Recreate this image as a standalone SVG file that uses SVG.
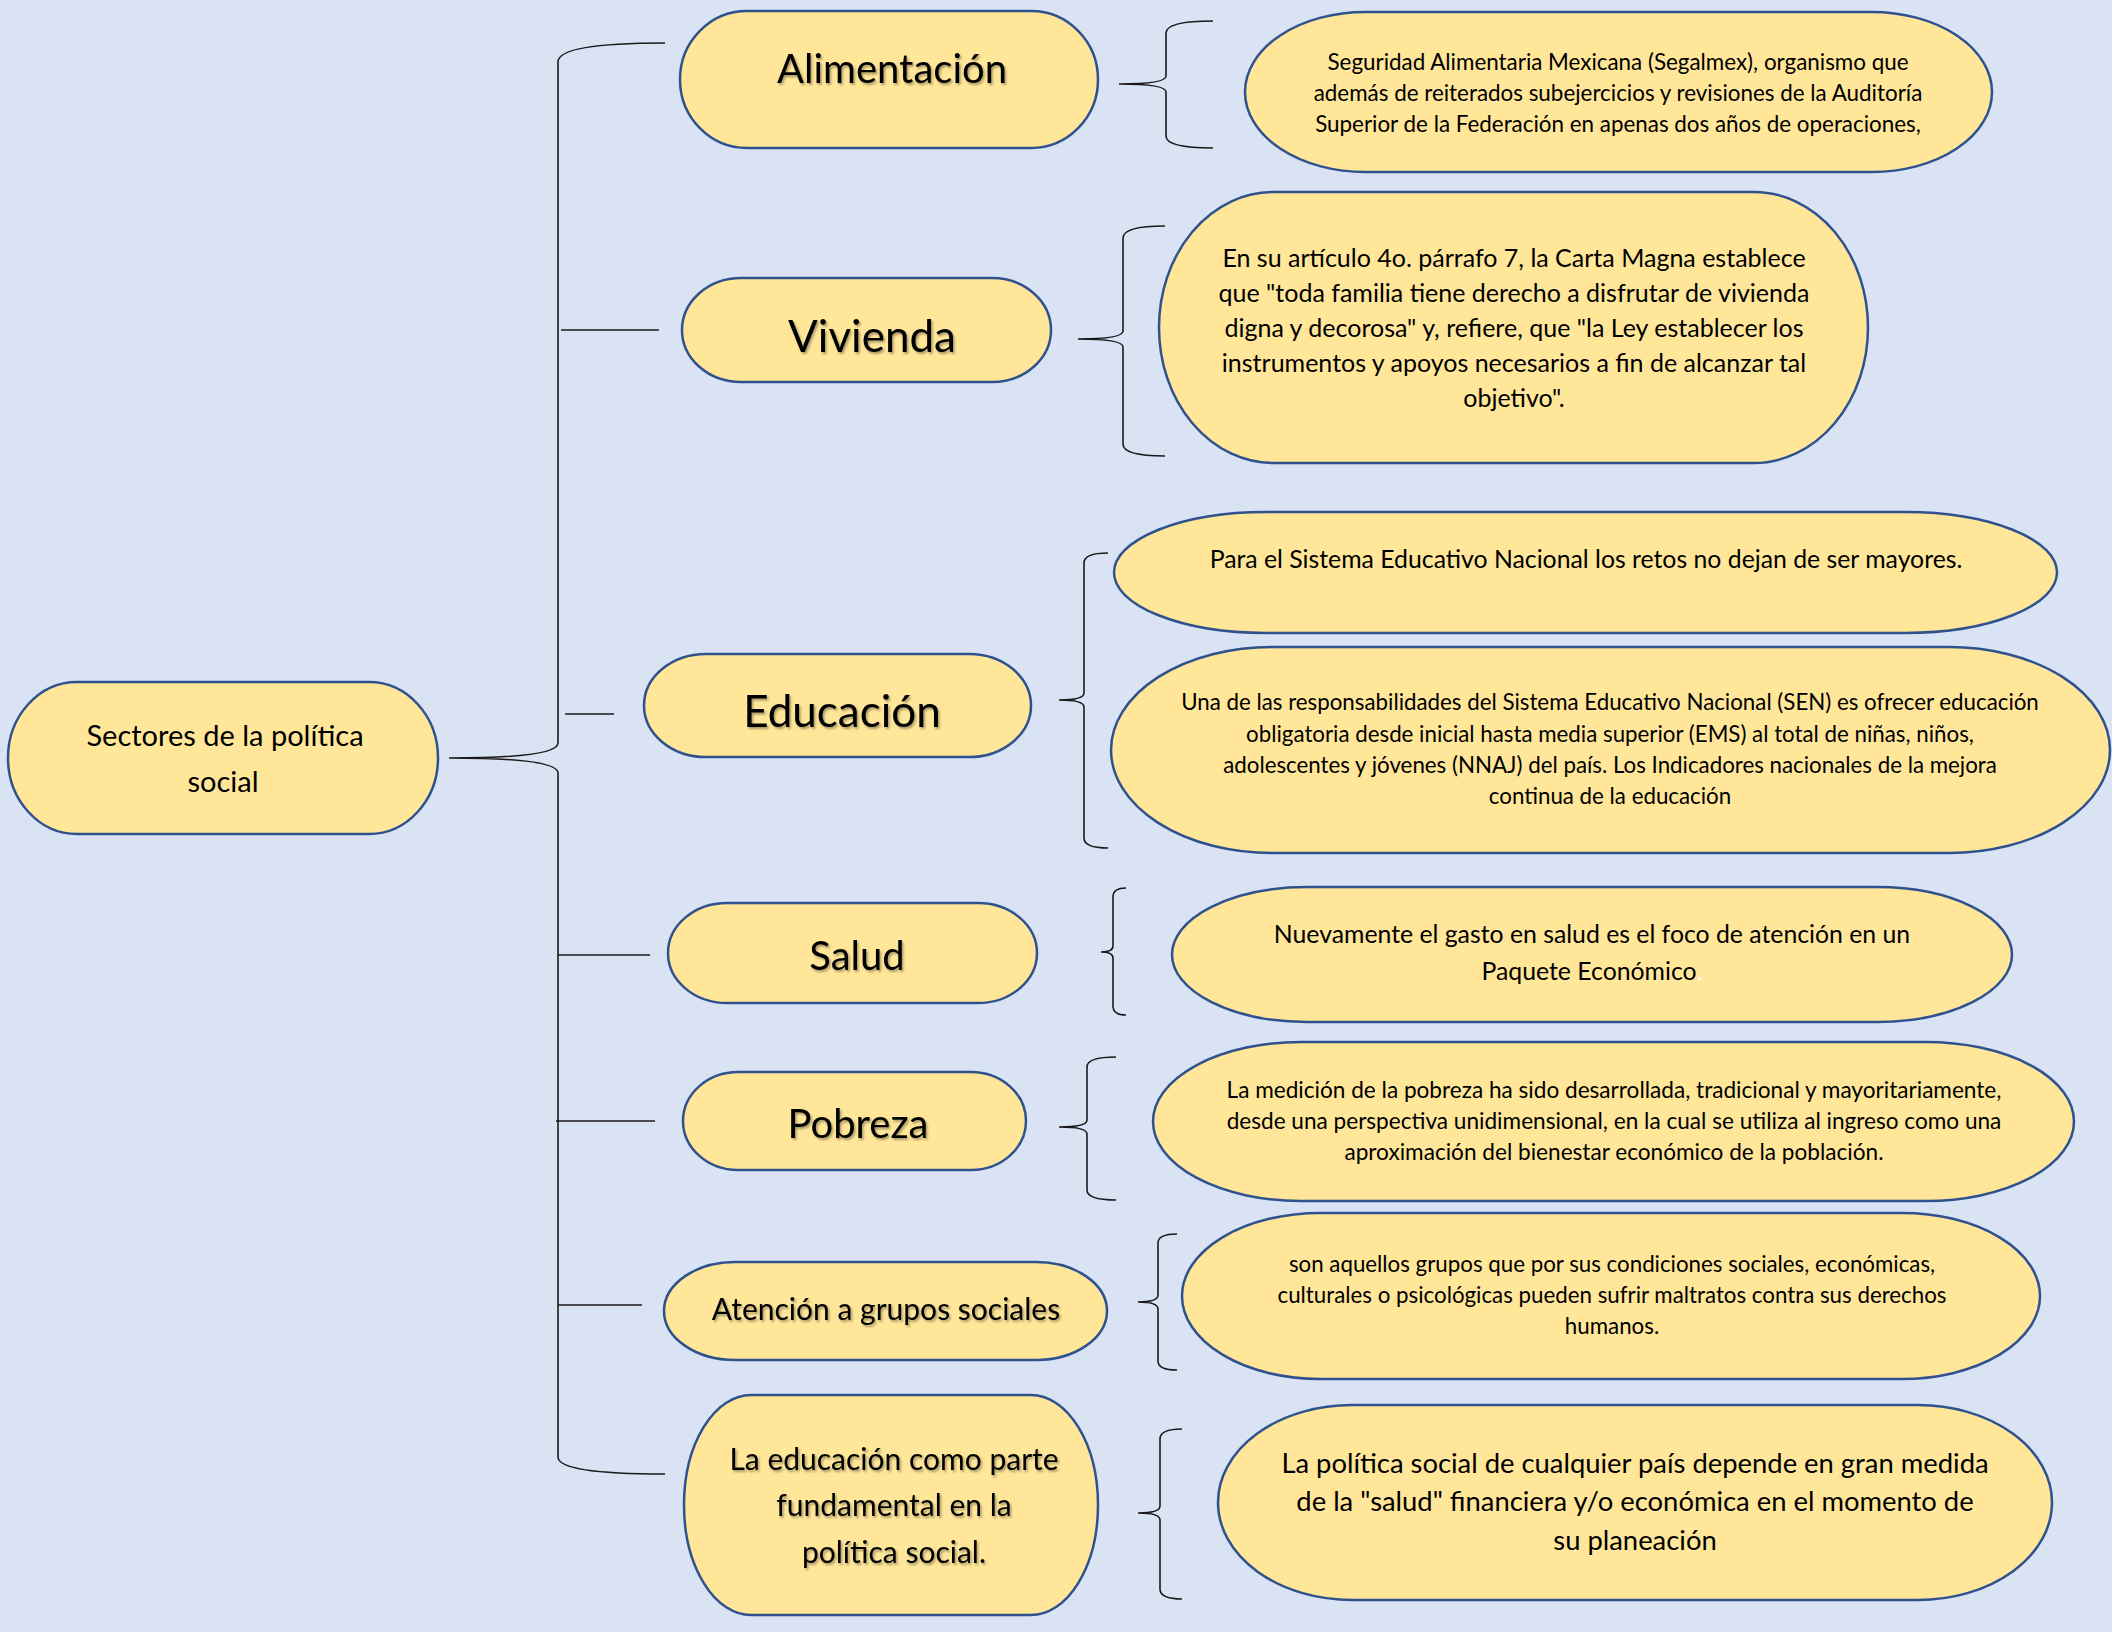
<svg xmlns="http://www.w3.org/2000/svg" width="2112" height="1632" viewBox="0 0 2112 1632">
<defs>
<style>
.node{fill:#FFE699;stroke:#2F528F;stroke-width:2.5}
.t{font-family:Lato,"Open Sans","Liberation Sans",sans-serif;fill:#000;text-anchor:middle}
.title{filter:url(#sh)}
.conn{fill:none;stroke:#1a1a1a;stroke-width:1.6}
</style>
<filter id="sh" x="-10%" y="-30%" width="120%" height="160%">
<feDropShadow dx="1.5" dy="2" stdDeviation="1.2" flood-color="#000" flood-opacity="0.35"/>
</filter>
</defs>
<rect width="2112" height="1632" fill="#DAE3F3"/>

<g id="connectors">
<path class="conn" d="M665 43 Q558 43 558 62 L558 743 Q558 758 449 758 Q558 758 558 773 L558 1457 Q558 1474 665 1474"/>
<path class="conn" d="M561 330 L659 330"/>
<path class="conn" d="M565 714 L614 714"/>
<path class="conn" d="M558 955 L650 955"/>
<path class="conn" d="M556 1121 L655 1121"/>
<path class="conn" d="M558 1305 L642 1305"/>
<path class="conn" d="M1213 21 Q1166 21 1166 33 L1166 76 Q1166 84 1119 84 Q1166 84 1166 92 L1166 136 Q1166 148 1213 148"/>
<path class="conn" d="M1165 226 Q1123 226 1123 238 L1123 331 Q1123 339 1078 339 Q1123 339 1123 347 L1123 444 Q1123 456 1165 456"/>
<path class="conn" d="M1108 553 Q1084 553 1084 563 L1084 693 Q1084 700 1059 700 Q1084 700 1084 707 L1084 838 Q1084 848 1108 848"/>
<path class="conn" d="M1126 888 Q1113 888 1113 897 L1113 946 Q1113 952 1101 952 Q1113 952 1113 958 L1113 1006 Q1113 1015 1126 1015"/>
<path class="conn" d="M1116 1057 Q1087 1057 1087 1067 L1087 1120 Q1087 1127 1059 1127 Q1087 1127 1087 1134 L1087 1190 Q1087 1200 1116 1200"/>
<path class="conn" d="M1177 1234 Q1158 1234 1158 1243 L1158 1295 Q1158 1302 1138 1302 Q1158 1302 1158 1309 L1158 1361 Q1158 1370 1177 1370"/>
<path class="conn" d="M1182 1429 Q1160 1429 1160 1439 L1160 1506 Q1160 1513 1138 1513 Q1160 1513 1160 1520 L1160 1589 Q1160 1599 1182 1599"/>
</g>

<g id="root">
<rect class="node" x="8" y="682" width="430" height="152" rx="69" ry="76"/>
<text class="t" font-size="29"><tspan x="225" y="746">Sectores de la política</tspan><tspan x="223" y="792">social</tspan></text>
</g>

<g id="alimentacion">
<rect class="node" x="680" y="11" width="418" height="137" rx="67" ry="68.5"/>
<text class="t title" font-size="40" x="892" y="83">Alimentación</text>
</g>
<g id="vivienda">
<rect class="node" x="682" y="278" width="369" height="104" rx="59" ry="52"/>
<text class="t title" font-size="44" x="872" y="352">Vivienda</text>
</g>
<g id="educacion">
<rect class="node" x="644" y="654" width="387" height="103" rx="62" ry="51.5"/>
<text class="t title" font-size="44" x="842" y="727">Educación</text>
</g>
<g id="salud">
<rect class="node" x="668" y="903" width="369" height="100" rx="59" ry="50"/>
<text class="t title" font-size="40" x="857" y="970">Salud</text>
</g>
<g id="pobreza">
<rect class="node" x="683" y="1072" width="343" height="98" rx="55" ry="49"/>
<text class="t title" font-size="40" x="858" y="1138">Pobreza</text>
</g>
<g id="atencion">
<rect class="node" x="664" y="1262" width="443" height="98" rx="71" ry="49"/>
<text class="t title" font-size="30" x="886" y="1320">Atención a grupos sociales</text>
</g>
<g id="educacion-politica">
<rect class="node" x="684" y="1395" width="414" height="220" rx="67" ry="110"/>
<text class="t title" font-size="30"><tspan x="894" y="1470">La educación como parte</tspan><tspan x="894" y="1516">fundamental en la</tspan><tspan x="894" y="1563">política social.</tspan></text>
</g>

<g id="det-alimentacion">
<rect class="node" x="1245" y="12" width="747" height="160" rx="120" ry="80"/>
<text class="t" font-size="22.4"><tspan x="1618" y="70">Seguridad Alimentaria Mexicana (Segalmex), organismo que</tspan><tspan x="1618" y="101">además de reiterados subejercicios y revisiones de la Auditoría</tspan><tspan x="1618" y="132">Superior de la Federación en apenas dos años de operaciones,</tspan></text>
</g>
<g id="det-vivienda">
<rect class="node" x="1159" y="192" width="709" height="271" rx="114" ry="135.5"/>
<text class="t" font-size="25"><tspan x="1514" y="267">En su artículo 4o. párrafo 7, la Carta Magna establece</tspan><tspan x="1514" y="302">que "toda familia tiene derecho a disfrutar de vivienda</tspan><tspan x="1514" y="337">digna y decorosa" y, refiere, que "la Ley establecer los</tspan><tspan x="1514" y="372">instrumentos y apoyos necesarios a fin de alcanzar tal</tspan><tspan x="1514" y="407">objetivo".</tspan></text>
</g>
<g id="det-educacion-1">
<rect class="node" x="1114" y="512" width="943" height="121" rx="152" ry="60.5"/>
<text class="t" font-size="24.8" x="1586" y="568">Para el Sistema Educativo Nacional los retos no dejan de ser mayores.</text>
</g>
<g id="det-educacion-2">
<rect class="node" x="1111" y="647" width="999" height="206" rx="161" ry="103"/>
<text class="t" font-size="22.3"><tspan x="1610" y="710">Una de las responsabilidades del Sistema Educativo Nacional (SEN) es ofrecer educación</tspan><tspan x="1610" y="742">obligatoria desde inicial hasta media superior (EMS) al total de niñas, niños,</tspan><tspan x="1610" y="773">adolescentes y jóvenes (NNAJ) del país. Los Indicadores nacionales de la mejora</tspan><tspan x="1610" y="804">continua de la educación</tspan></text>
</g>
<g id="det-salud">
<rect class="node" x="1172" y="887" width="840" height="135" rx="135" ry="67.5"/>
<text class="t" font-size="24.8"><tspan x="1592" y="943">Nuevamente el gasto en salud es el foco de atención en un</tspan><tspan x="1592" y="980">Paquete Económico<tspan fill="#fff">.</tspan></tspan></text>
</g>
<g id="det-pobreza">
<rect class="node" x="1153" y="1042" width="921" height="159" rx="148" ry="79.5"/>
<text class="t" font-size="22.6"><tspan x="1614" y="1098">La medición de la pobreza ha sido desarrollada, tradicional y mayoritariamente,</tspan><tspan x="1614" y="1129">desde una perspectiva unidimensional, en la cual se utiliza al ingreso como una</tspan><tspan x="1614" y="1160">aproximación del bienestar económico de la población.</tspan></text>
</g>
<g id="det-atencion">
<rect class="node" x="1182" y="1213" width="858" height="166" rx="138" ry="83"/>
<text class="t" font-size="22.3"><tspan x="1612" y="1272">son aquellos grupos que por sus condiciones sociales, económicas,</tspan><tspan x="1612" y="1303">culturales o psicológicas pueden sufrir maltratos contra sus derechos</tspan><tspan x="1612" y="1334">humanos.</tspan></text>
</g>
<g id="det-educacion-politica">
<rect class="node" x="1218" y="1405" width="834" height="195" rx="134" ry="97.5"/>
<text class="t" font-size="27.4"><tspan x="1635" y="1473">La política social de cualquier país depende en gran medida</tspan><tspan x="1635" y="1511">de la "salud" financiera y/o económica en el momento de</tspan><tspan x="1635" y="1550">su planeación</tspan></text>
</g>
</svg>
